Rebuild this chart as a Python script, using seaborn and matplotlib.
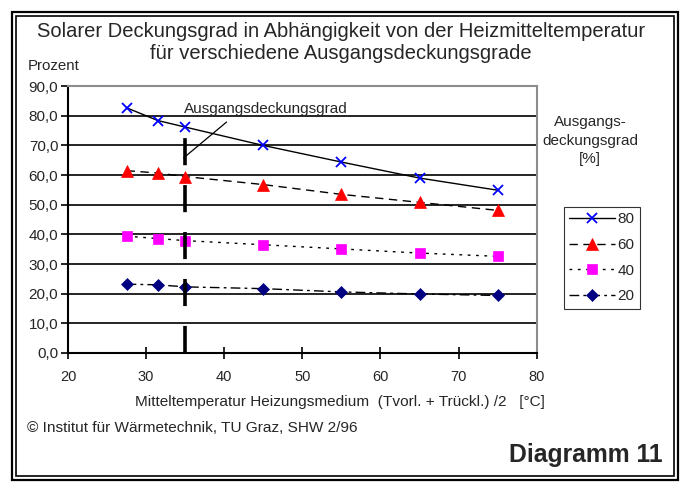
# Solarer Deckungsgrad vs. Heizmitteltemperatur (Diagramm 11)

import numpy as np
import pandas as pd
import matplotlib
matplotlib.use("Agg")
import matplotlib.pyplot as plt
from matplotlib.patches import Rectangle
from matplotlib.ticker import FuncFormatter
import seaborn as sns

# DATA

temperatur = [27.5, 31.5, 35, 45, 55, 65, 75]
grad_80 = [82.7, 78.4, 76.2, 70.0, 64.4, 59.0, 54.9]
grad_60 = [61.5, 60.7, 59.5, 56.8, 53.5, 50.8, 48.1]
grad_40 = [39.4, 38.6, 37.9, 36.5, 35.1, 33.7, 32.6]
grad_20 = [23.2, 23.0, 22.3, 21.7, 20.6, 19.9, 19.4]
legend_labels = ["80", "60", "40", "20"]
y_ticks = [0, 10, 20, 30, 40, 50, 60, 70, 80, 90]
x_ticks = [20, 30, 40, 50, 60, 70, 80]
ref_temp = 35
ref_value = 76.2

df = pd.DataFrame({"t": temperatur, "80": grad_80, "60": grad_60,
                   "40": grad_40, "20": grad_20})

# STYLE

sns.set_theme(style="white")
plt.rcParams["font.family"] = ["Liberation Sans", "DejaVu Sans"]

fig = plt.figure(figsize=(6.82, 4.84), dpi=100)
ax = fig.add_axes([0.0997, 0.2707, 0.6873, 0.5513])

styles = {
    "80": dict(marker="x", ms=7.5, mec="blue", mew=1.3, ls="-"),
    "60": dict(marker="^", ms=8, mfc="red", mec="red", ls=(0, (6, 4))),
    "40": dict(marker="s", ms=7, mfc="magenta", mec="magenta", ls=(0, (2, 4))),
    "20": dict(marker="D", ms=6.5, mfc="#000080", mec="#000080",
               ls=(0, (7, 3, 2, 3))),
}

# gridlines
for y in y_ticks[1:-1]:
    ax.axhline(y, color="black", lw=1.2, zorder=1)

for key in legend_labels:
    st = styles[key]
    sns.lineplot(data=df, x="t", y=key, ax=ax, color="black", lw=1.0,
                 marker=st["marker"], markersize=st["ms"],
                 markerfacecolor=st.get("mfc", "none"),
                 markeredgecolor=st["mec"],
                 markeredgewidth=st.get("mew", 0.5),
                 linestyle=st["ls"], label=key, zorder=3)

# reference line at 35 °C
ax.plot([ref_temp, ref_temp], [0, ref_value], color="black", lw=2.6,
        dashes=(7.5, 5.5), zorder=4)
ax.plot([34.8, 40.3], [65.8, 77.9], color="black", lw=0.9, zorder=4)
ax.text(34.8, 82.2, "Ausgangsdeckungsgrad", fontsize=11, va="center",
        ha="left")

ax.set_xlim(20, 80)
ax.set_ylim(0, 90)
ax.set_xticks(x_ticks)
ax.set_yticks(y_ticks)
ax.yaxis.set_major_formatter(FuncFormatter(lambda v, p: f"{v:.1f}".replace(".", ",")))
ax.tick_params(axis="y", direction="out", length=5, width=1.2, labelsize=11,
               left=True, pad=2, color="black")
ax.tick_params(axis="x", direction="inout", length=9, width=1.2, labelsize=10.5,
               bottom=True, pad=8, color="black")
ax.set_xlabel("")
ax.set_ylabel("")

for side in ["left", "bottom"]:
    ax.spines[side].set_color("black")
    ax.spines[side].set_linewidth(1.5)
for side in ["top", "right"]:
    ax.spines[side].set_color("#8c8c8c")
    ax.spines[side].set_linewidth(1.5)

leg = ax.legend(loc="upper left", bbox_to_anchor=(1.058, 0.547),
                handlelength=3.0, handletextpad=0.15, fontsize=11,
                frameon=True, fancybox=False, borderpad=0.35,
                labelspacing=0.76, borderaxespad=0)
leg.get_frame().set_edgecolor("black")
leg.get_frame().set_linewidth(0.8)

# TEXTS

fig.text(0.5, 0.934, "Solarer Deckungsgrad in Abhängigkeit von der Heizmitteltemperatur",
         ha="center", va="center", fontsize=14.5)
fig.text(0.5, 0.890, "für verschiedene Ausgangsdeckungsgrade",
         ha="center", va="center", fontsize=14.5)
fig.text(0.041, 0.864, "Prozent", ha="left", va="center", fontsize=10.8)
fig.text(0.865, 0.709, "Ausgangs-\ndeckungsgrad\n[%]", ha="center",
         va="center", fontsize=11, linespacing=1.4)
fig.text(0.499, 0.169,
         "Mitteltemperatur Heizungsmedium  (Tvorl. + Trückl.) /2   [°C]",
         ha="center", va="center", fontsize=11.1)
fig.text(0.04, 0.116, "© Institut für Wärmetechnik, TU Graz, SHW 2/96",
         ha="left", va="center", fontsize=11.1)
fig.text(0.972, 0.060, "Diagramm 11", ha="right", va="center",
         fontsize=17.8, fontweight="bold")

# double frame
fig.patches.append(Rectangle((12 / 682, 4 / 484), 666 / 682, 468 / 484,
                             transform=fig.transFigure, fill=False,
                             edgecolor="black", lw=1.6))
fig.patches.append(Rectangle((16 / 682, 8 / 484), 658 / 682, 460 / 484,
                             transform=fig.transFigure, fill=False,
                             edgecolor="black", lw=1.2))

fig.savefig("out.png", dpi=100)
